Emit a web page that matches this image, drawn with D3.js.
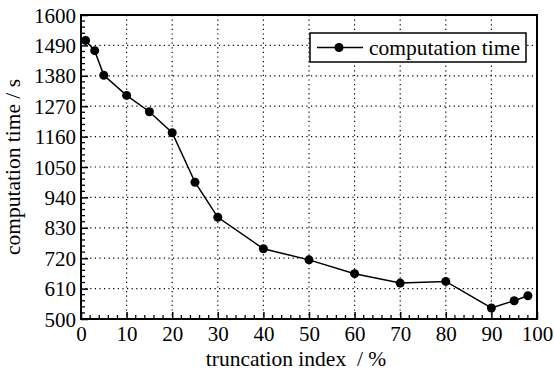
<!DOCTYPE html>
<html>
<head>
<meta charset="utf-8">
<script src="https://cdn.jsdelivr.net/npm/d3@7"></script>
<style>
body{margin:0;background:#fff;}
svg text{font-family:"Liberation Serif","Times New Roman",serif !important;fill:#000;}
</style>
</head>
<body>
<div id="chart"></div>
<script>
// data
var truncIdx = [1, 3, 5, 10, 15, 20, 25, 30, 40, 50, 60, 70, 80, 90, 95, 98];
var compTime = [1508, 1471, 1382, 1309, 1250, 1174, 995, 868, 754, 714, 664, 630, 636, 540, 566, 584];
var xTicks = [0, 10, 20, 30, 40, 50, 60, 70, 80, 90, 100];
var yTicks = [500, 610, 720, 830, 940, 1050, 1160, 1270, 1380, 1490, 1600];
var seriesName = "computation time";

var serif = '"Liberation Serif","Times New Roman",serif';
var fs = 21;

var margin = {top:15, right:17, bottom:59, left:81};
var W = 554, H = 378,
	width = W - margin.left - margin.right,
	height = H - margin.top - margin.bottom;

var svg = d3.select('#chart').append('svg')
	.attr('width', W)
	.attr('height', H)
	.attr('font-family', serif);

var g = svg.append('g')
	.attr('transform', 'translate(' + margin.left + ',' + margin.top + ')');

var x = d3.scaleLinear().domain([0, 100]).range([0, width]);
var y = d3.scaleLinear().domain([500, 1600]).range([height, 0]);

//---dotted grid---
g.selectAll('.gx').data(xTicks.slice(1, -1)).enter().append('line')
	.attr('x1', d => x(d)).attr('x2', d => x(d))
	.attr('y1', 0).attr('y2', height)
	.style('stroke', '#000').style('stroke-width', 1.2)
	.style('stroke-dasharray', '1.2,3.4');
g.selectAll('.gy').data(yTicks.slice(1, -1)).enter().append('line')
	.attr('y1', d => y(d)).attr('y2', d => y(d))
	.attr('x1', 0).attr('x2', width)
	.style('stroke', '#000').style('stroke-width', 1.2)
	.style('stroke-dasharray', '1.2,3.4');

//---minor ticks (inward)---
var xMinor = d3.range(0, 101, 2).filter(d => d % 10 !== 0);
var yMinor = d3.range(500, 1601, 22).filter(d => (d - 500) % 110 !== 0);

var xAxis = d3.axisBottom(x).tickValues(xTicks).tickFormat(d3.format('d'))
	.tickSizeInner(-7).tickSizeOuter(0);
var yAxis = d3.axisLeft(y).tickValues(yTicks).tickFormat(d3.format('d'))
	.tickSizeInner(-7).tickSizeOuter(0);

g.append('g').attr('transform', 'translate(0,' + height + ')')
	.selectAll('line').data(xMinor).enter().append('line')
	.attr('x1', d => x(d)).attr('x2', d => x(d))
	.attr('y1', 0).attr('y2', -4)
	.style('stroke', '#000').style('stroke-width', 1.3);
g.append('g')
	.selectAll('line').data(yMinor).enter().append('line')
	.attr('y1', d => y(d)).attr('y2', d => y(d))
	.attr('x1', 0).attr('x2', 4)
	.style('stroke', '#000').style('stroke-width', 1.3);

var gx = g.append('g').attr('transform', 'translate(0,' + height + ')').call(xAxis);
var gy = g.append('g').call(yAxis);
[gx, gy].forEach(function(a){
	a.attr('font-family', serif).attr('font-size', fs);
	a.select('.domain').remove();
	a.selectAll('line').style('stroke', '#000').style('stroke-width', 1.5);
	a.selectAll('text').attr('font-family', serif).attr('font-size', fs).attr('fill', '#000');
});
gx.selectAll('text').attr('y', 7).attr('dy', '0.71em');
gy.selectAll('text').attr('x', -5).attr('dy', '0.34em');

//---frame---
g.append('rect')
	.attr('width', width).attr('height', height)
	.style('fill', 'none').style('stroke', '#000').style('stroke-width', 2);

//---series---
var line = d3.line().x(d => x(d[0])).y(d => y(d[1]));
var pts = d3.zip(truncIdx, compTime);
g.append('path').datum(pts)
	.attr('d', line)
	.style('fill', 'none').style('stroke', '#000').style('stroke-width', 1.5);
g.selectAll('.pt').data(pts).enter().append('circle')
	.attr('cx', d => x(d[0])).attr('cy', d => y(d[1])).attr('r', 4.5)
	.style('fill', '#000');

//---legend---
var lg = svg.append('g').attr('transform', 'translate(310,33)');
lg.append('rect').attr('width', 216).attr('height', 29)
	.style('fill', '#fff').style('stroke', '#000').style('stroke-width', 1.5);
lg.append('line').attr('x1', 7).attr('x2', 53).attr('y1', 14.5).attr('y2', 14.5)
	.style('stroke', '#000').style('stroke-width', 1.5);
lg.append('circle').attr('cx', 29).attr('cy', 14.5).attr('r', 4.5).style('fill', '#000');
lg.append('text').attr('x', 59).attr('y', 21.5).attr('font-size', 21.5).text(seriesName);

//---axis titles---
svg.append('text')
	.attr('x', 296).attr('y', 366)
	.attr('text-anchor', 'middle')
	.attr('font-size', 21.5)
	.style('white-space', 'pre')
	.text('truncation index  / %');
svg.append('text')
	.attr('transform', 'translate(20,' + (margin.top + height / 2) + ') rotate(-90)')
	.attr('text-anchor', 'middle')
	.attr('font-size', 21.5)
	.text('computation time / s');
</script>
</body>
</html>
